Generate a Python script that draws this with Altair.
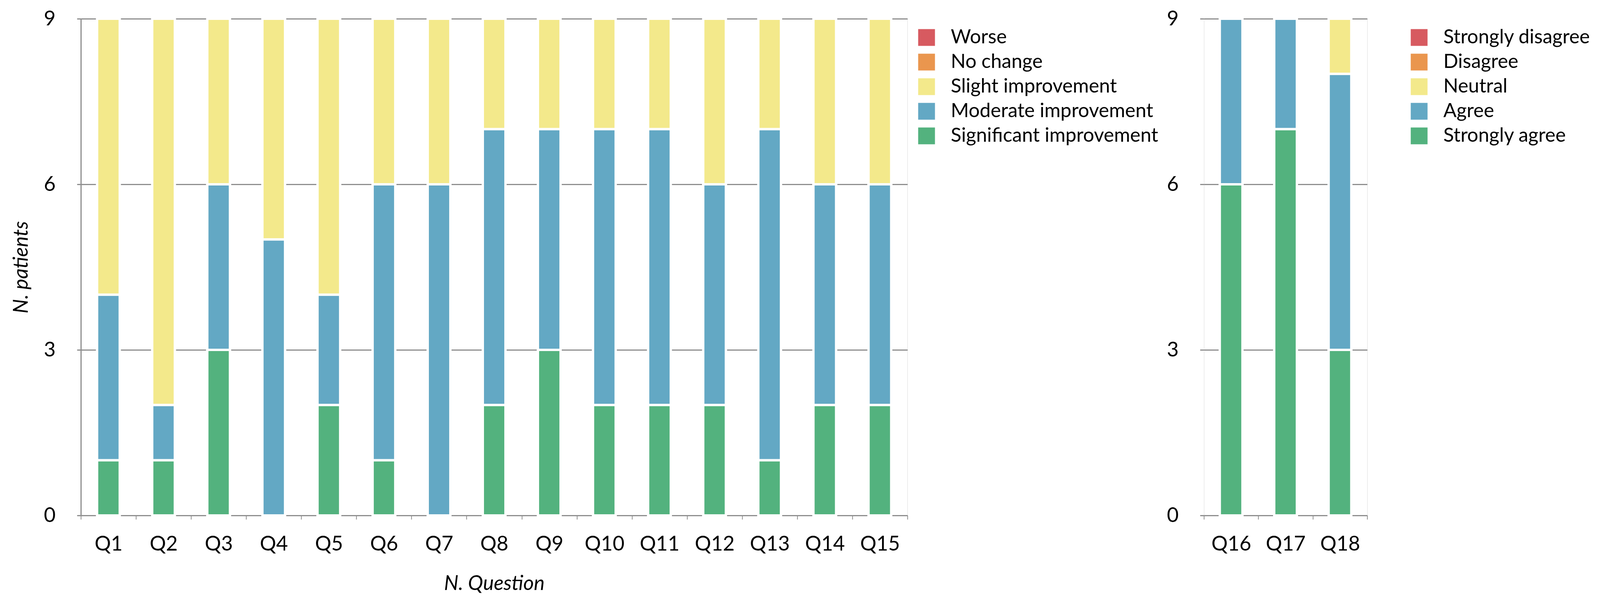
import altair as alt
import pandas as pd

# ---- data ----
questions_a = ["Q1", "Q2", "Q3", "Q4", "Q5", "Q6", "Q7", "Q8", "Q9", "Q10",
               "Q11", "Q12", "Q13", "Q14", "Q15"]
cats_a = ["Worse", "No change", "Slight improvement", "Moderate improvement",
          "Significant improvement"]
worse_a = [0, 0, 0, 0, 0, 0, 0, 0, 0, 0, 0, 0, 0, 0, 0]
nochange_a = [0, 0, 0, 0, 0, 0, 0, 0, 0, 0, 0, 0, 0, 0, 0]
slight_a = [5, 7, 3, 4, 5, 3, 3, 2, 2, 2, 2, 3, 2, 3, 3]
moderate_a = [3, 1, 3, 5, 2, 5, 6, 5, 4, 5, 5, 4, 6, 4, 4]
significant_a = [1, 1, 3, 0, 2, 1, 0, 2, 3, 2, 2, 2, 1, 2, 2]

questions_b = ["Q16", "Q17", "Q18"]
cats_b = ["Strongly disagree", "Disagree", "Neutral", "Agree", "Strongly agree"]
sdis_b = [0, 0, 0]
dis_b = [0, 0, 0]
neutral_b = [0, 0, 1]
agree_b = [3, 2, 5]
sagree_b = [6, 7, 3]

colors = ["#D75A60", "#EA964E", "#F3E98B", "#63A8C4", "#53B27E"]

FONT = "Lato"
GRAY = "#8E8E8E"


def long_table(questions, cats, series):
    rows = []
    for rank, (cat, vals) in enumerate(zip(cats, series)):
        for q, v in zip(questions, vals):
            rows.append({"question": q, "category": cat, "rank": rank, "count": v})
    return pd.DataFrame(rows)


df_a = long_table(questions_a, cats_a, [worse_a, nochange_a, slight_a, moderate_a, significant_a])
df_b = long_table(questions_b, cats_b, [sdis_b, dis_b, neutral_b, agree_b, sagree_b])


def panel(df, questions, cats, width, legend_offset, is_left):
    y_axis = dict(values=[0, 3, 6, 9], grid=True, gridColor=GRAY, gridWidth=3,
                  domain=is_left, domainColor=GRAY, domainWidth=3,
                  tickColor=GRAY, tickWidth=3, tickSize=10,
                  labelFont=FONT, labelFontSize=52, labelColor="black", labelPadding=55,
                  titleFont=FONT, titleFontSize=52, titleFontStyle="italic",
                  titleFontWeight="normal", titleColor="black", titlePadding=30)
    x_axis = dict(labelAngle=0, tickBand="extent", domainColor=GRAY, domainWidth=3,
                  tickColor=GRAY, tickWidth=2, tickSize=10,
                  labelFont=FONT, labelFontSize=52, labelColor="black", labelPadding=38,
                  titleFont=FONT, titleFontSize=52, titleFontStyle="italic",
                  titleFontWeight="normal", titleColor="black", titlePadding=50)
    return (
        alt.Chart(df)
        .transform_filter("datum.count > 0")
        .mark_bar(size=58, stroke="white", strokeWidth=6)
        .encode(
            x=alt.X("question:N", sort=questions,
                    scale=alt.Scale(domain=questions, paddingInner=0, paddingOuter=0),
                    axis=alt.Axis(**x_axis),
                    title="N. Question" if is_left else ""),
            y=alt.Y("count:Q", stack="zero",
                    scale=alt.Scale(domain=[0, 9], nice=False),
                    axis=alt.Axis(**y_axis),
                    title="N. patients" if is_left else ""),
            color=alt.Color("category:N",
                            scale=alt.Scale(domain=cats, range=colors),
                            legend=alt.Legend(title=" ", titleFontSize=1, titlePadding=22,
                                              orient="right", offset=legend_offset, padding=0,
                                              symbolType="square", symbolSize=1849,
                                              symbolStrokeWidth=0, labelFont=FONT,
                                              labelFontSize=50, labelColor="black",
                                              labelOffset=37, rowPadding=13,
                                              labelLimit=2000)),
            order=alt.Order("rank:Q", sort="descending"),
        )
        .properties(width=width, height=1272)
    )


left = panel(df_a, questions_a, cats_a, 2116, 24, True)
right = panel(df_b, questions_b, cats_b, 418, 108, False)

chart = (
    alt.hconcat(left, right, spacing=20)
    .resolve_scale(color="independent", x="independent", y="independent")
    .properties(padding={"left": 20, "top": 13, "right": 2, "bottom": 5})
    .configure_view(stroke=None)
    .configure(background="white")
)

chart.save("out.html", embed_options={"renderer": "svg", "actions": False})
